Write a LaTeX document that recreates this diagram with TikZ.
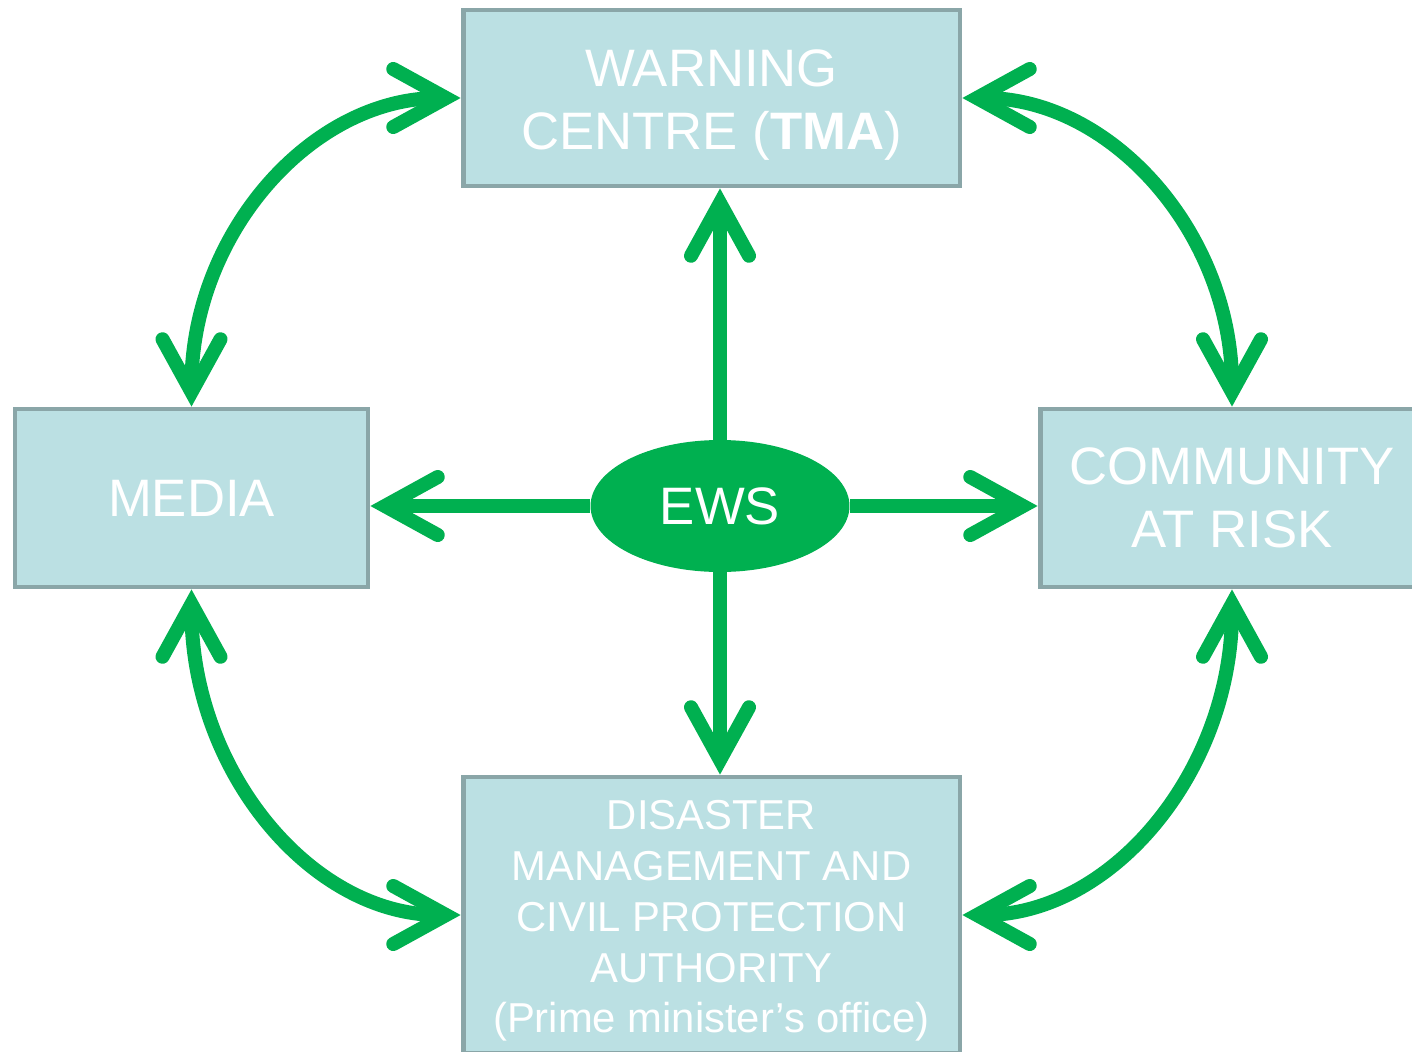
\documentclass[tikz,border=0pt]{standalone}
\usepackage{fontspec}
\setmainfont{Liberation Sans}
\usetikzlibrary{arrows.meta,shapes.geometric}
\definecolor{grn}{HTML}{00B050}
\definecolor{boxfill}{HTML}{BBE0E3}
\definecolor{boxline}{HTML}{8AA6A8}
\tikzset{
  chev/.tip={Straight Barb[length=30pt,width=33pt,line cap=round,line join=miter]},
  box/.style={draw=boxline, fill=boxfill, line width=2.8pt, inner sep=0pt},
  lbl/.style={text=white, align=center, inner sep=0pt},
  bigtxt/.style={font=\fontsize{30}{35.5}\selectfont},
  smalltxt/.style={font=\fontsize{23.8}{28.9}\selectfont},
  link/.style={draw=grn, line width=8pt},
}
\begin{document}
\begin{tikzpicture}[x=0.02cm,y=-0.02cm]
\useasboundingbox (0,0) rectangle (1412,1051);
\clip (0,0) rectangle (1412,1051);
\node[box, minimum width=9.94cm, minimum height=3.52cm] (warn) at (711.5,98) {};
\node[lbl, bigtxt] (warntxt) at (711.5,105) {WARNING\\CENTRE (\textbf{TMA})};
\node[box, lbl, bigtxt, minimum width=7.06cm, minimum height=3.56cm] (media) at (191.5,498) {MEDIA};
\node[box, lbl, minimum width=7.68cm, minimum height=3.56cm, font=\fontsize{30}{36}\selectfont] (comm) at (1232,498) {COMMUNITY\\AT RISK};
\node[box, minimum width=9.94cm, minimum height=5.52cm] (bot) at (711.5,915) {};
\node[lbl, smalltxt] (bottxt) at (711.5,921) {DISASTER\\MANAGEMENT AND\\CIVIL PROTECTION\\AUTHORITY\\(Prime minister’s office)};
\node[ellipse, fill=grn, lbl, bigtxt, minimum width=5.18cm, minimum height=2.64cm] (ews) at (720,506) {EWS};
% straight connectors
\draw[link, -chev] (ews.north) -- (ews.north |- warn.south);
\draw[link, -chev] (ews.south) -- (ews.south |- bot.north);
\draw[link, -chev] (ews.west) -- (ews.west -| media.east);
\draw[link, -chev] (ews.east) -- (ews.east -| comm.west);
% curved connectors
\draw[link, chev-chev] (media.north) .. controls +(0,-172) and +(-150,0) .. (warn.west);
\draw[link, chev-chev] (warn.east) .. controls +(150,0) and +(0,-172) .. (comm.north);
\draw[link, chev-chev] (media.south) .. controls +(0,181) and +(-150,0) .. (bot.west);
\draw[link, chev-chev] (comm.south) .. controls +(0,181) and +(150,0) .. (bot.east);
\end{tikzpicture}
\end{document}
